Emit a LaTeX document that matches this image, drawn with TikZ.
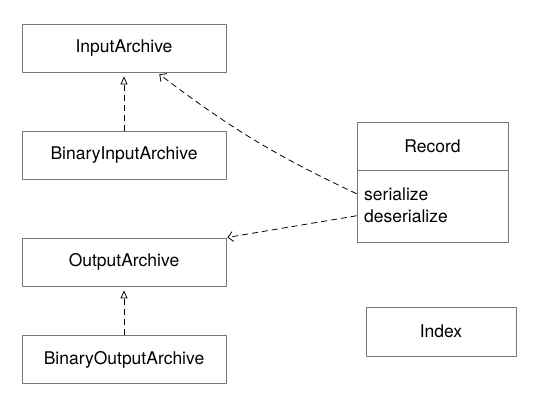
\documentclass[tikz,border=0pt]{standalone}
\usepackage{fontspec}
\setmainfont{TeX Gyre Heros}
\usetikzlibrary{arrows.meta}
\definecolor{boxgray}{RGB}{120,120,120}
\tikzset{
  every node/.style={font=\fontsize{17.5}{22}\selectfont},
  cls/.style={draw=boxgray, line width=0.8pt, minimum width=204pt,
    minimum height=48pt, inner sep=0pt},
  small cls/.style={cls, minimum width=151pt},
  dep/.style={dash pattern=on 6pt off 4pt, line width=0.8pt,
    -{Straight Barb[length=5pt,width=10pt]}},
  impl/.style={dash pattern=on 6pt off 4pt, line width=0.8pt,
    -{Triangle[open,length=8pt,width=7pt]}, shorten >=4pt}
}

\begin{document}
\begin{tikzpicture}[x=1pt,y=-1pt,line cap=butt,line join=round]
  \useasboundingbox (0,0) rectangle (536,418);

  % archive classes
  \node[cls] (input) at (124,48) {InputArchive};
  \node[cls] (binin) at (124,155.5) {BinaryInputArchive};
  \node[cls] (output) at (124,262) {OutputArchive};
  \node[cls] (binout) at (124,359.5) {BinaryOutputArchive};

  % record with its methods
  \node[small cls] (recordhead) at (432.5,146) {Record};
  \node[small cls, minimum height=72pt, anchor=north] (recordbody)
    at (recordhead.south) {};
  \node[anchor=base west, inner sep=0pt] (ser) at (364,200) {serialize};
  \node[anchor=base west, inner sep=0pt] (deser) at (364,222) {deserialize};

  \node[small cls, minimum width=150pt, minimum height=49pt] (index)
    at (441,331.5) {Index};

  \draw[impl] (binin.north) -- (input.south);
  \draw[impl] (binout.north) -- (output.south);
  \draw[dep, shorten >=3pt] (ser.west -| recordbody.west)
    to[bend left=6] ([xshift=33pt]input.south);
  \draw[dep, shorten >=1pt] (deser.west -| recordbody.west)
    -- (output.north east);
\end{tikzpicture}
\end{document}
